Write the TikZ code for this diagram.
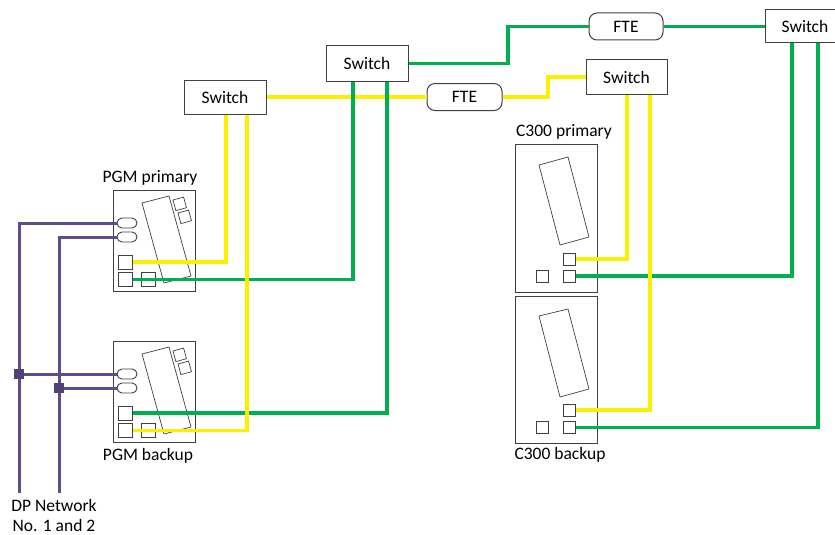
\documentclass[tikz,border=0pt]{standalone}
\usepackage{fontspec}
\setmainfont{Carlito}
\usetikzlibrary{calc}
\definecolor{gline}{RGB}{0,176,80}
\definecolor{yline}{RGB}{250,240,0}
\definecolor{pline}{RGB}{96,76,140}
\definecolor{edge}{RGB}{64,64,64}
\begin{document}
\begin{tikzpicture}[x=1pt,y=-1pt, font=\fontsize{17.5}{21}\selectfont,
 swbox/.style={draw=edge, line width=1pt, fill=white, minimum width=82pt, minimum height=34pt, inner sep=0pt},
 ftebox/.style={draw=edge, line width=1pt, fill=white, rounded corners=8pt, minimum width=75pt, minimum height=27pt, inner sep=0pt},
 devbox/.style={draw=edge, line width=0.9pt, anchor=north west, inner sep=0pt},
 modline/.style={draw=edge, line width=0.7pt},
 port/.style={draw=edge, line width=0.9pt, fill=white, inner sep=0pt, minimum size=14pt},
 cport/.style={port, minimum size=12pt},
 oval/.style={draw=edge, line width=0.9pt, fill=white, rounded corners=5pt, minimum width=20pt, minimum height=10pt, inner sep=0pt},
 gw/.style={draw=gline, line width=3.2pt},
 yw/.style={draw=yline, line width=3.2pt},
 pw/.style={draw=pline, line width=3pt},
 junc/.style={fill=pline!85!black, minimum size=10pt, inner sep=0pt},
 lbl/.style={inner sep=0pt}
]
\useasboundingbox (0,0) rectangle (835,535);
\clip (0,0) rectangle (835,535);

% PGM primary
\begin{scope}[shift={(113,190)}]
 \node[devbox, minimum width=82pt, minimum height=101pt] (pgmA) at (0,0) {};
 \draw[modline] (29,13) -- (56,6) -- (78,86) -- (51,93) -- cycle;
 \draw[modline] (60,10) -- (70.6,7.1) -- (73.5,17.7) -- (62.9,20.6) -- cycle;
 \draw[modline] (65,23) -- (75.6,20.1) -- (78.5,30.7) -- (67.9,33.6) -- cycle;
 \node[oval] (pAo1) at (14,33) {};
 \node[oval] (pAo2) at (14,47) {};
 \node[port] (pAp1) at (12.5,72) {};
 \node[port] (pAp2) at (12.5,89.5) {};
 \node[port] (pAp3) at (35,89.5) {};
\end{scope}

% PGM backup
\begin{scope}[shift={(113,341)}]
 \node[devbox, minimum width=82pt, minimum height=101pt] (pgmB) at (0,0) {};
 \draw[modline] (29,13) -- (56,6) -- (78,86) -- (51,93) -- cycle;
 \draw[modline] (60,10) -- (70.6,7.1) -- (73.5,17.7) -- (62.9,20.6) -- cycle;
 \draw[modline] (65,23) -- (75.6,20.1) -- (78.5,30.7) -- (67.9,33.6) -- cycle;
 \node[oval] (pBo1) at (14,33) {};
 \node[oval] (pBo2) at (14,47) {};
 \node[port] (pBp1) at (12.5,72) {};
 \node[port] (pBp2) at (12.5,89.5) {};
 \node[port] (pBp3) at (35,89.5) {};
\end{scope}

% C300 primary
\begin{scope}[shift={(515,144)}]
 \node[devbox, minimum width=82pt, minimum height=148pt] (c3A) at (0,0) {};
 \draw[modline] (24,21) -- (53,13) -- (74,93) -- (45,101) -- cycle;
 \node[cport] (cAp1) at (54.5,115) {};
 \node[cport] (cAp2) at (54.5,132) {};
 \node[cport] (cAp3) at (27.5,132) {};
\end{scope}

% C300 backup
\begin{scope}[shift={(515,296)}]
 \node[devbox, minimum width=82pt, minimum height=147pt] (c3B) at (0,0) {};
 \draw[modline] (24,20) -- (53,13) -- (74,93) -- (45,101) -- cycle;
 \node[cport] (cBp1) at (54.5,114) {};
 \node[cport] (cBp2) at (54.5,131.5) {};
 \node[cport] (cBp3) at (27.5,131.5) {};
\end{scope}

% switches and FTEs
\node[swbox] (sw1) at (225,97) {Switch};
\node[swbox, minimum height=35pt] (sw2) at (367,63.5) {Switch};
\node[swbox, minimum width=81pt] (sw4) at (626.5,77) {Switch};
\node[swbox, minimum width=80pt, minimum height=33pt] (sw3) at (805,26.5) {Switch};
\node[ftebox] (fte1) at (464.5,97) {FTE};
\node[ftebox, minimum width=74pt] (fte2) at (626,26.5) {FTE};

\coordinate (yb) at (548,0);
\coordinate (gb) at (508,0);

% network links
\draw[yw] (sw1.east) -- (fte1.west);
\draw[yw] (fte1.east) -| (yb |- sw4.west) -- (sw4.west);
\draw[gw] (sw2.east) -| (gb |- fte2.west) -- (fte2.west);
\draw[gw] (fte2.east) -- (sw3.west);

\draw[yw] (pAp1.east) -| ([xshift=1pt]sw1.south);
\draw[gw] (pAp2.east) -| ([xshift=-14pt]sw2.south);
\draw[gw] (pBp1.east) -| ([xshift=20pt]sw2.south);
\draw[yw] (pBp2.east) -| ([xshift=22pt]sw1.south);
\draw[yw] (cAp1.east) -| ([xshift=0.5pt]sw4.south);
\draw[gw] (cAp2.east) -| ([xshift=-13pt]sw3.south);
\draw[yw] (cBp1.east) -| ([xshift=23.5pt]sw4.south);
\draw[gw] (cBp2.east) -| ([xshift=13pt]sw3.south);

% DP network
\coordinate (dn1) at (19,493);
\coordinate (dn2) at (59,493);
\draw[pw] (dn1) |- (pAo1.west);
\draw[pw] (dn2) |- (pAo2.west);
\node[junc] (j1) at (dn1 |- pBo1.west) {};
\node[junc] (j2) at (dn2 |- pBo2.west) {};
\draw[pw] (j1) -- (pBo1.west);
\draw[pw] (j2) -- (pBo2.west);

% labels
\node[lbl] (lpA) at (150,178) {PGM primary};
\node[lbl] (lpB) at (148,456) {PGM backup};
\node[lbl] (lcA) at (564,132) {C300 primary};
\node[lbl] (lcB) at (560,455) {C300 backup};
\node[lbl, align=center, font=\fontsize{17.5}{20.5}\selectfont] (ldp) at (54,515.5) {DP Network\\No. 1 and 2};
\end{tikzpicture}
\end{document}
